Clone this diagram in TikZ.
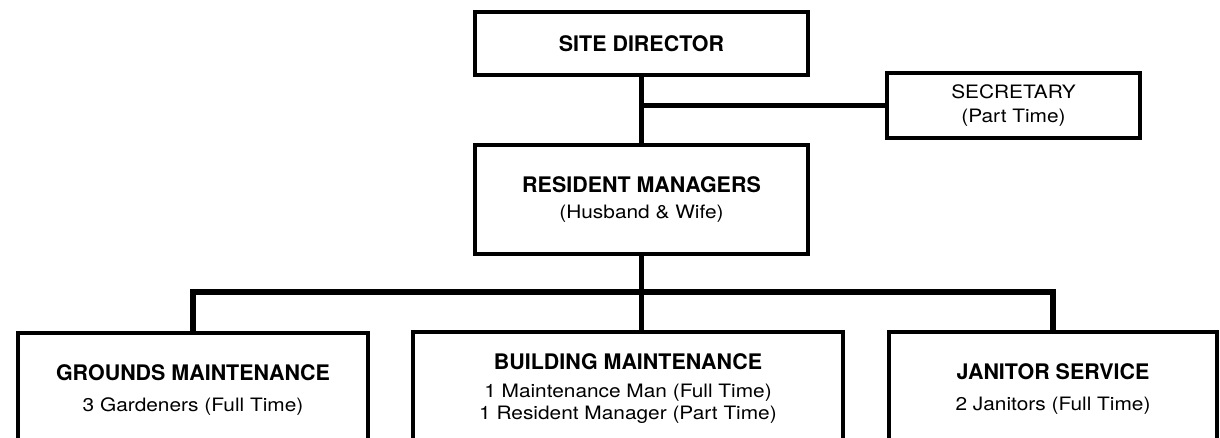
\documentclass[tikz,border=0pt]{standalone}
\usepackage{fontspec}
\setmainfont{TeX Gyre Heros}
\newfontfamily\subfont{TeX Gyre Heros}[FakeStretch=1.13]
\usetikzlibrary{calc,positioning}
\newcommand{\unithead}[1]{{\rmfamily\bfseries\fontsize{12.2}{12.3}\selectfont #1}}
\tikzset{
  unit/.style={draw=black, line width=2pt, align=center, inner sep=2pt, font={\subfont\fontsize{10.5}{12.3}\selectfont\lineskiplimit=-20pt}},
  staff/.style={unit, anchor=north, minimum height=2.28cm},
  link/.style={draw=black, line width=3.2pt}
}

\begin{document}
\begin{tikzpicture}
  \useasboundingbox (0,0) rectangle (24.4,-8.76);
  \clip (0,0) rectangle (24.4,-8.76);

  \node[unit, minimum width=6.66cm, minimum height=1.26cm] (dir) at (12.83,-0.87) {\unithead{SITE DIRECTOR}};
  \node[unit, minimum width=6.66cm, minimum height=2.18cm, below=1.33cm of dir] (rm) {\unithead{RESIDENT MANAGERS}\\[2.8pt](Husband \& Wife)};
  \node[unit, minimum width=5.06cm, minimum height=1.3cm] (sec) at (20.27,-2.11) {SECRETARY\\[1.7pt](Part Time)};

  \node[staff, minimum width=7.0cm] (gm) at (3.86,-6.63) {\unithead{GROUNDS MAINTENANCE}\\[5.3pt]3 Gardeners (Full Time)};
  \node[staff, minimum width=8.6cm] (bm) at (12.56,-6.6) {\unithead{BUILDING MAINTENANCE}\\[3.6pt]1 Maintenance Man (Full Time)\\1 Resident Manager (Part Time)};
  \node[staff, minimum width=6.56cm] (js) at (21.06,-6.6) {\unithead{JANITOR SERVICE}\\[5.3pt]2 Janitors (Full Time)};

  \coordinate (bus) at ($(rm.south)+(0,-0.72)$);

  \draw[link] (dir.south) -- (rm.north);
  \draw[link] (sec.west) -- (sec.west -| dir.south);
  \draw[link] (rm.south) -- (rm.south |- bm.north);
  \draw[link] (gm.north) |- (bus) -| (js.north);
\end{tikzpicture}
\end{document}
